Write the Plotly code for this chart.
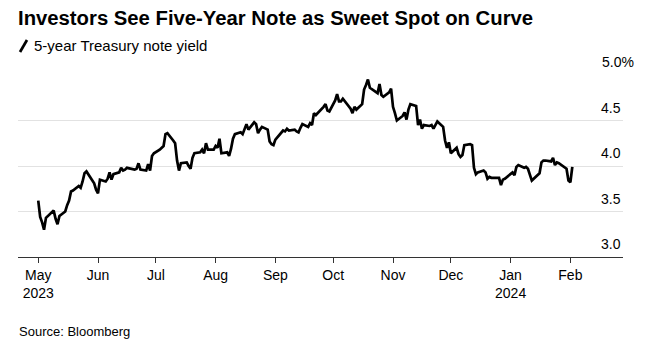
import pandas as pd
import plotly.graph_objects as go

# ---- data (5-year Treasury note yield, %, daily) ----
holidays = ["2023-05-29", "2023-06-19", "2023-07-04", "2023-09-04", "2023-10-09",
            "2023-11-23", "2023-12-25", "2024-01-01", "2024-01-15"]

may_2023 = [3.62, 3.44, 3.38, 3.30, 3.43, 3.49, 3.51, 3.42, 3.36, 3.45, 3.50, 3.57,
            3.62, 3.72, 3.73, 3.78, 3.76, 3.83, 3.92, 3.94, 3.81, 3.74]
jun_2023 = [3.70, 3.85, 3.83, 3.86, 3.93, 3.85, 3.91, 3.93, 3.98, 3.95, 3.96, 3.98,
            3.96, 3.97, 4.03, 3.96, 3.95, 4.02, 3.95, 4.11, 4.14]
jul_2023 = [4.18, 4.22, 4.35, 4.36, 4.28, 4.25, 4.06, 3.95, 4.03, 4.04, 4.00, 3.97,
            4.09, 4.14, 4.15, 4.18, 4.14, 4.25, 4.18, 4.18]
aug_2023 = [4.22, 4.20, 4.30, 4.14, 4.15, 4.11, 4.19, 4.30, 4.35, 4.37, 4.35, 4.41,
            4.46, 4.40, 4.48, 4.46, 4.36, 4.40, 4.43, 4.40, 4.27, 4.24, 4.23]
sep_2023 = [4.29, 4.39, 4.38, 4.41, 4.39, 4.40, 4.38, 4.37, 4.42, 4.46, 4.43, 4.47,
            4.45, 4.58, 4.56, 4.62, 4.65, 4.68, 4.61, 4.60]
oct_2023 = [4.72, 4.79, 4.71, 4.71, 4.74, 4.63, 4.58, 4.65, 4.62, 4.68, 4.84, 4.89,
            4.95, 4.86, 4.82, 4.80, 4.90, 4.78, 4.76, 4.81, 4.85]
nov_2023 = [4.65, 4.58, 4.50, 4.55, 4.59, 4.51, 4.62, 4.68, 4.66, 4.45, 4.51, 4.41,
            4.45, 4.44, 4.45, 4.41, 4.49, 4.43, 4.28, 4.20, 4.26]
dec_2023 = [4.14, 4.20, 4.13, 4.10, 4.12, 4.23, 4.24, 4.23, 3.98, 3.91, 3.93, 3.95,
            3.93, 3.86, 3.88, 3.87, 3.87, 3.79, 3.85, 3.86]
jan_2024 = [3.93, 3.90, 3.99, 4.01, 3.98, 3.99, 3.97, 3.91, 3.84, 3.92, 4.04, 4.06,
            4.06, 4.05, 4.09, 4.01, 4.04, 4.03, 3.99, 3.97, 3.84]
feb_2024 = [3.82, 3.99]

tick_dates = ["2023-05-01", "2023-06-01", "2023-07-01", "2023-08-01", "2023-09-01",
              "2023-10-01", "2023-11-01", "2023-12-01", "2024-01-01", "2024-02-01"]
tick_labels = ["May<br>2023", "Jun", "Jul", "Aug", "Sep", "Oct", "Nov", "Dec",
               "Jan<br>2024", "Feb"]
y_ticks = [3.0, 3.5, 4.0, 4.5, 5.0]
y_tick_labels = ["3.0", "3.5", "4.0", "4.5", "5.0%"]

title = "Investors See Five-Year Note as Sweet Spot on Curve"
series_name = "5-year Treasury note yield"
source = "Source: Bloomberg"

# ---- build series ----
values = (may_2023 + jun_2023 + jul_2023 + aug_2023 + sep_2023 + oct_2023
          + nov_2023 + dec_2023 + jan_2024 + feb_2024)
days = pd.bdate_range("2023-05-01", "2024-02-02")
days = days[~days.isin(pd.to_datetime(holidays))]
assert len(days) == len(values), (len(days), len(values))

W, H = 653, 358
L, R, T, B = 18, 30, 75, 101
PW, PH = W - L - R, H - T - B


def px(x):
    return (x - L) / PW


def py(y):
    return 1 - (y - T) / PH


fig = go.Figure()
fig.add_trace(go.Scatter(
    x=days, y=values, mode="lines", name=series_name,
    line=dict(color="#000000", width=2.7), showlegend=False,
))

FONT = "Liberation Sans, Arial, sans-serif"

fig.update_layout(
    width=W, height=H,
    margin=dict(l=L, r=R, t=T, b=B),
    paper_bgcolor="#ffffff", plot_bgcolor="#ffffff",
    font=dict(family=FONT, color="#000000", size=14),
    title=dict(
        text="<b>" + title + "</b>",
        font=dict(family="Liberation Sans Narrow, Arial Narrow, Liberation Sans, Arial",
                  size=20.3, color="#000000"),
        xref="container", yref="container",
        x=18 / W, xanchor="left", y=1 - 18 / H, yanchor="middle",
    ),
    xaxis=dict(
        type="date",
        range=["2023-04-20 12:00", "2024-02-28 07:00"],
        tickvals=tick_dates, ticktext=tick_labels,
        showgrid=False, zeroline=False,
        showline=True, linecolor="#333333", linewidth=1,
        ticks="outside", ticklen=5, tickcolor="#333333", tickwidth=1,
        tickfont=dict(size=14, color="#000000"),
        fixedrange=True,
    ),
    yaxis=dict(
        range=[3.0, 5.0],
        tickvals=y_ticks,
        showticklabels=False,
        showgrid=True, gridcolor="#e2e2e2", gridwidth=1,
        zeroline=False, showline=False, ticks="",
        fixedrange=True,
    ),
)

# y tick labels sitting above the gridlines, right-aligned
for v, lab in zip(y_ticks, y_tick_labels):
    fig.add_annotation(
        x=1, xref="paper", y=v, yref="y",
        text=lab, showarrow=False,
        xanchor="right", yanchor="bottom",
        xshift=13 if lab.endswith("%") else 0, yshift=3,
        font=dict(size=14, color="#000000"),
    )

# legend: slash glyph + label
fig.add_shape(type="line", xref="paper", yref="paper",
              x0=px(20), y0=py(52), x1=px(27), y1=py(40),
              line=dict(color="#000000", width=2.7))
fig.add_annotation(x=px(32), xref="paper", y=py(45.5), yref="paper",
                   text=series_name, showarrow=False,
                   xanchor="left", yanchor="middle",
                   font=dict(size=15, color="#000000"))

# source note
fig.add_annotation(x=px(17), xref="paper", y=py(331), yref="paper",
                   text=source, showarrow=False,
                   xanchor="left", yanchor="middle",
                   font=dict(size=13, color="#000000"))

fig.write_html(
    "out.html",
    config={"displayModeBar": False, "staticPlot": True},
    post_script="document.body.style.margin='0';document.body.style.overflow='hidden';",
)
